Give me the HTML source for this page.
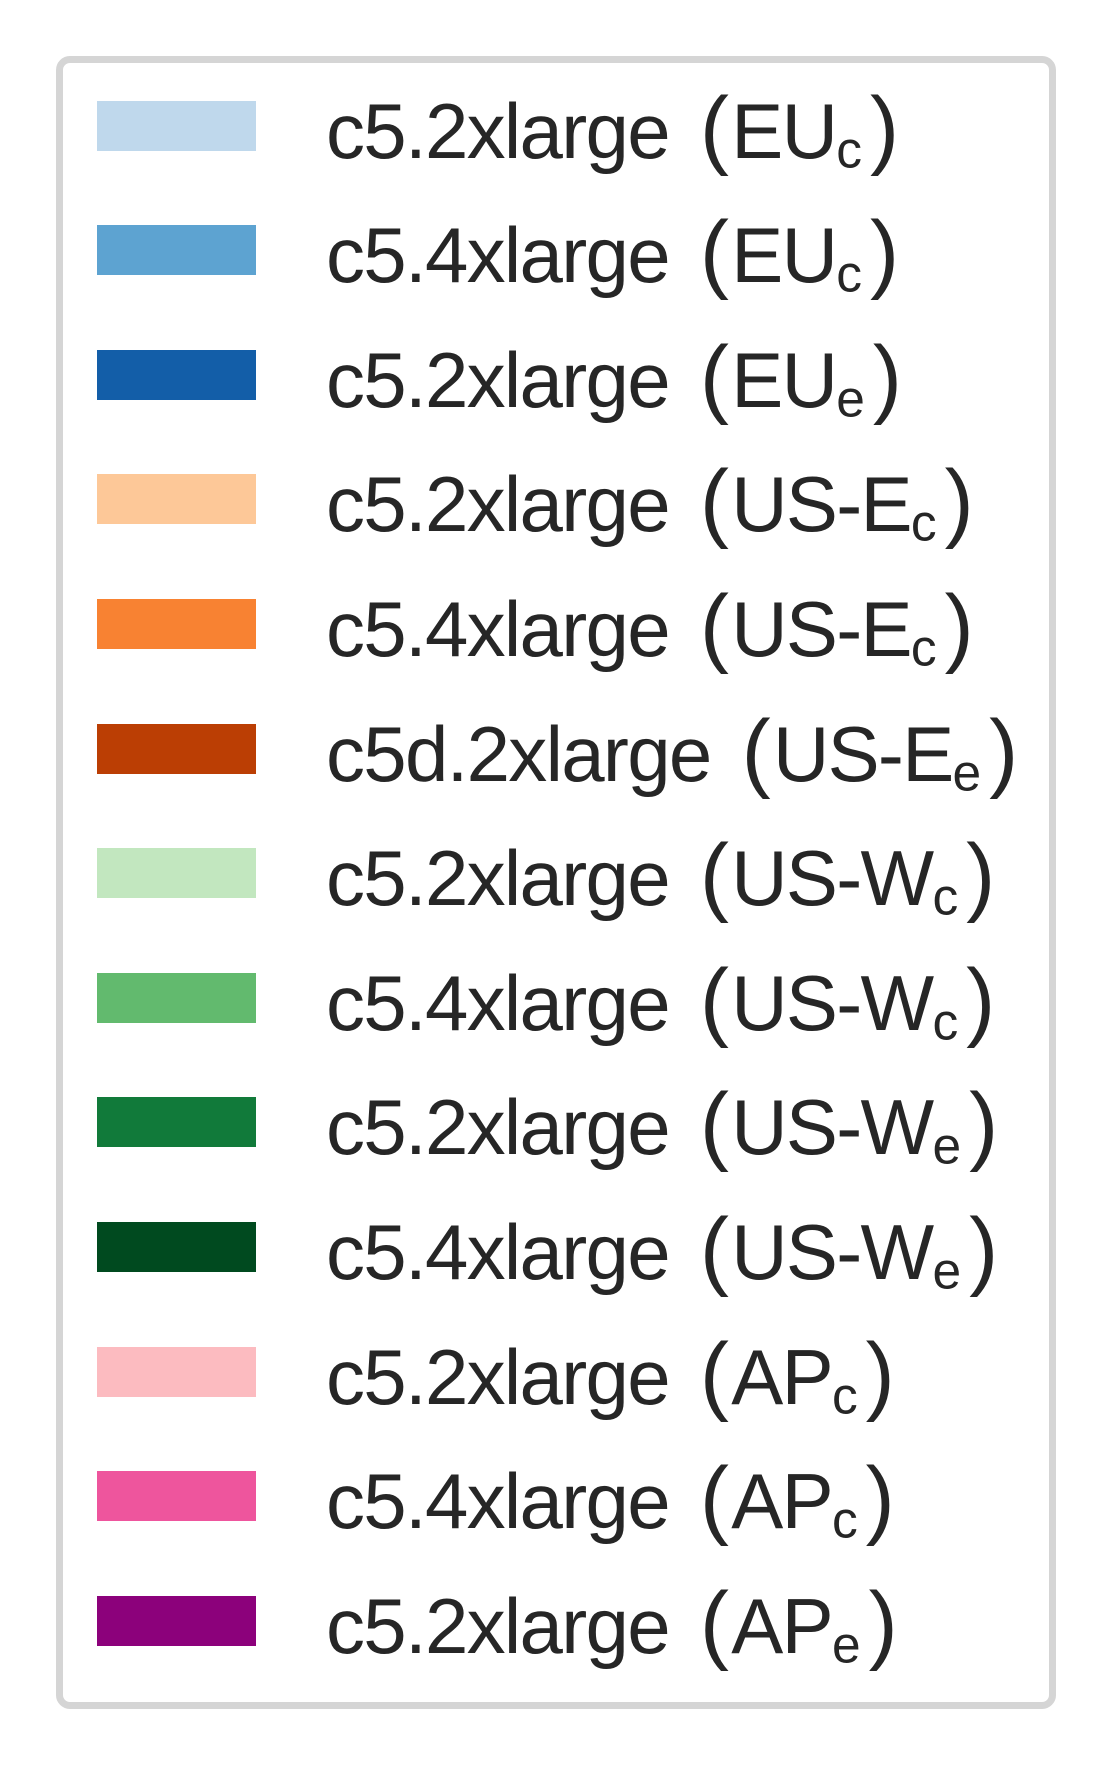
<!DOCTYPE html>
<html><head><meta charset="utf-8"><style>
html,body{margin:0;padding:0;background:#fff;}
#root{position:relative;width:1112px;height:1765px;overflow:hidden;font-family:"Liberation Sans",sans-serif;color:#262626;}
#legend-box{position:absolute;left:56px;top:56px;width:986px;height:1639px;border:7px solid #d5d5d5;border-radius:14px;background:#fff;}
.sw{position:absolute;left:97px;width:159px;height:50px;}
.lb{position:absolute;left:326px;font-size:78px;letter-spacing:-1.7px;line-height:1;white-space:nowrap;}
.lb .p{font-size:1.12em;font-weight:300;}
.lb .p1{margin-left:31px;margin-right:4px;}
.lb .p2{margin-left:8px;}
.lb sub{font-size:0.66em;vertical-align:-0.18em;letter-spacing:0;}
</style></head><body>
<div id="root">
<div id="legend-box"></div>
</div>
<script>
const instances=["c5.2xlarge","c5.4xlarge","c5.2xlarge","c5.2xlarge","c5.4xlarge","c5d.2xlarge","c5.2xlarge","c5.4xlarge","c5.2xlarge","c5.4xlarge","c5.2xlarge","c5.4xlarge","c5.2xlarge"];
const regions=["EU","EU","EU","US-E","US-E","US-E","US-W","US-W","US-W","US-W","AP","AP","AP"];
const subs=["c","c","e","c","c","e","c","c","e","e","c","c","e"];
const colors=["#bfd8ec","#5da3d1","#135ea8","#fdc898","#f88232","#bb3e04","#c2e7bf","#62ba6e","#117a3a","#004a1f","#fcbbc0","#ee559d","#8c017b"];
const root=document.getElementById('root');
for(let i=0;i<instances.length;i++){
  const cy=125.5+i*124.6;
  const sw=document.createElement('div');
  sw.className='sw';
  sw.style.top=(cy-25)+'px';
  sw.style.background=colors[i];
  
  
  root.appendChild(sw);
  const lb=document.createElement('div');
  lb.className='lb';
  lb.style.top=(cy-41)+'px';
  lb.innerHTML=instances[i]+'<span class="p p1">(</span>'+regions[i]+'<sub>'+subs[i]+'</sub><span class="p p2">)</span>';
  
  
  root.appendChild(lb);
}
</script>
</body></html>
